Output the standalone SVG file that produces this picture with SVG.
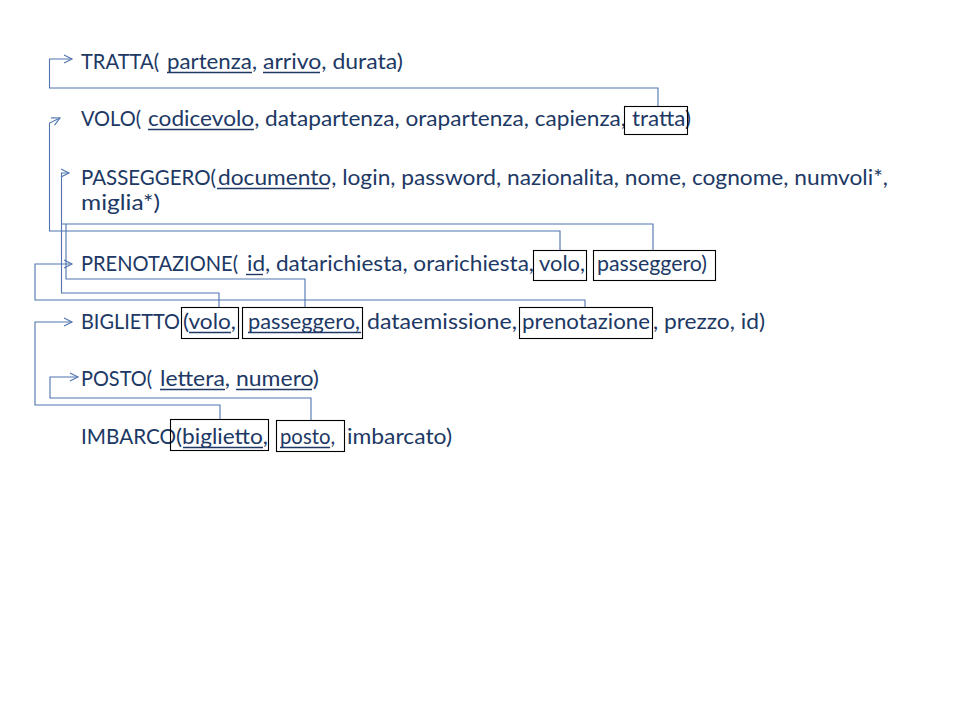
<svg xmlns="http://www.w3.org/2000/svg" width="960" height="720" viewBox="0 0 960 720">
<style>
.t{font-family:Lato,"Liberation Sans",sans-serif;font-size:21px;fill:#203864}
.u{stroke:#203864;stroke-width:1.4}
.b{fill:none;stroke:#000;stroke-width:1.1}
.c{fill:none;stroke:#4f74ae;stroke-width:1.1}
</style>
<defs>
<marker id="ah" markerUnits="userSpaceOnUse" markerWidth="12" markerHeight="12" refX="9" refY="5" orient="auto">
<path d="M1,1 L9,5 L1,9" fill="none" stroke="#4f74ae" stroke-width="1.1"/>
</marker>
</defs>
<rect width="960" height="720" fill="#fff"/>
<g id="connectors">
<path class="c" d="M658,106 V88 H49.5 V59 H72" marker-end="url(#ah)"/>
<path class="c" d="M560,250 V231 H49.5 V123 L60,118" marker-end="url(#ah)"/>
<path class="c" d="M653,250 V224 H61.5 V173 H69" marker-end="url(#ah)"/>
<path class="c" d="M219,307 V293 H61.5 V224"/>
<path class="c" d="M305,307 V279 H66 V224"/>
<path class="c" d="M585,307 V300 H35 V264 H72" marker-end="url(#ah)"/>
<path class="c" d="M220,420 V405 H35 V322 H72" marker-end="url(#ah)"/>
<path class="c" d="M311,420 V398 H50 V377 H78" marker-end="url(#ah)"/>
</g>
<g id="tratta">
<text class="t" x="81" y="69" textLength="78" lengthAdjust="spacingAndGlyphs">TRATTA(</text>
<text class="t" x="167" y="69" textLength="90" lengthAdjust="spacingAndGlyphs">partenza,</text>
<text class="t" x="263" y="69" textLength="140" lengthAdjust="spacingAndGlyphs">arrivo, durata)</text>
<line class="u" x1="167" y1="72.5" x2="252" y2="72.5"/>
<line class="u" x1="263" y1="72.5" x2="320" y2="72.5"/>
</g>
<g id="volo">
<text class="t" x="81" y="126" textLength="60" lengthAdjust="spacingAndGlyphs">VOLO(</text>
<text class="t" x="148" y="126" textLength="478" lengthAdjust="spacingAndGlyphs">codicevolo, datapartenza, orapartenza, capienza,</text>
<text class="t" x="632" y="126" textLength="59" lengthAdjust="spacingAndGlyphs">tratta)</text>
<line class="u" x1="148" y1="129.5" x2="254" y2="129.5"/>
<rect class="b" x="624.5" y="106.5" width="63" height="28"/>
</g>
<g id="passeggero">
<text class="t" x="81" y="185" textLength="135" lengthAdjust="spacingAndGlyphs">PASSEGGERO(</text>
<text class="t" x="218" y="185" textLength="670" lengthAdjust="spacingAndGlyphs">documento, login, password, nazionalita, nome, cognome, numvoli*,</text>
<text class="t" x="81" y="210" textLength="79" lengthAdjust="spacingAndGlyphs">miglia*)</text>
<line class="u" x1="217" y1="188.5" x2="329" y2="188.5"/>
</g>
<g id="prenotazione">
<text class="t" x="81" y="271" textLength="157" lengthAdjust="spacingAndGlyphs">PRENOTAZIONE(</text>
<text class="t" x="247" y="271" textLength="287" lengthAdjust="spacingAndGlyphs">id, datarichiesta, orarichiesta,</text>
<text class="t" x="539" y="271" textLength="46" lengthAdjust="spacingAndGlyphs">volo,</text>
<text class="t" x="597" y="271" textLength="110" lengthAdjust="spacingAndGlyphs">passeggero)</text>
<line class="u" x1="246" y1="274.5" x2="263" y2="274.5"/>
<rect class="b" x="533.5" y="250.5" width="53" height="30"/>
<rect class="b" x="593.5" y="250.5" width="122" height="30"/>
</g>
<g id="biglietto">
<text class="t" x="81" y="329" textLength="99" lengthAdjust="spacingAndGlyphs">BIGLIETTO</text>
<text class="t" x="183" y="329" textLength="53" lengthAdjust="spacingAndGlyphs">(volo,</text>
<text class="t" x="248" y="329" textLength="112" lengthAdjust="spacingAndGlyphs">passeggero,</text>
<text class="t" x="367" y="329" textLength="150" lengthAdjust="spacingAndGlyphs">dataemissione,</text>
<text class="t" x="522" y="329" textLength="128" lengthAdjust="spacingAndGlyphs">prenotazione</text>
<text class="t" x="653" y="329" textLength="112" lengthAdjust="spacingAndGlyphs">,  prezzo, id)</text>
<line class="u" x1="189" y1="332.5" x2="231" y2="332.5"/>
<line class="u" x1="248" y1="332.5" x2="361" y2="332.5"/>
<rect class="b" x="181.5" y="307.5" width="57" height="31"/>
<rect class="b" x="242.5" y="307.5" width="120" height="31"/>
<rect class="b" x="519.5" y="307.5" width="133" height="31"/>
</g>
<g id="posto">
<text class="t" x="81" y="386" textLength="71" lengthAdjust="spacingAndGlyphs">POSTO(</text>
<text class="t" x="160" y="386" textLength="70" lengthAdjust="spacingAndGlyphs">lettera,</text>
<text class="t" x="236" y="386" textLength="83" lengthAdjust="spacingAndGlyphs">numero)</text>
<line class="u" x1="160" y1="389.5" x2="225" y2="389.5"/>
<line class="u" x1="236" y1="389.5" x2="312" y2="389.5"/>
</g>
<g id="imbarco">
<text class="t" x="81" y="444" textLength="95" lengthAdjust="spacingAndGlyphs">IMBARCO</text>
<text class="t" x="176" y="444" textLength="92" lengthAdjust="spacingAndGlyphs">(biglietto,</text>
<text class="t" x="280" y="444" textLength="55" lengthAdjust="spacingAndGlyphs">posto,</text>
<text class="t" x="347" y="444" textLength="105" lengthAdjust="spacingAndGlyphs">imbarcato)</text>
<line class="u" x1="183" y1="447.5" x2="263" y2="447.5"/>
<line class="u" x1="280" y1="447.5" x2="330" y2="447.5"/>
<rect class="b" x="170.5" y="419.5" width="98" height="31"/>
<rect class="b" x="276.5" y="420.5" width="68" height="31"/>
</g>
</svg>
